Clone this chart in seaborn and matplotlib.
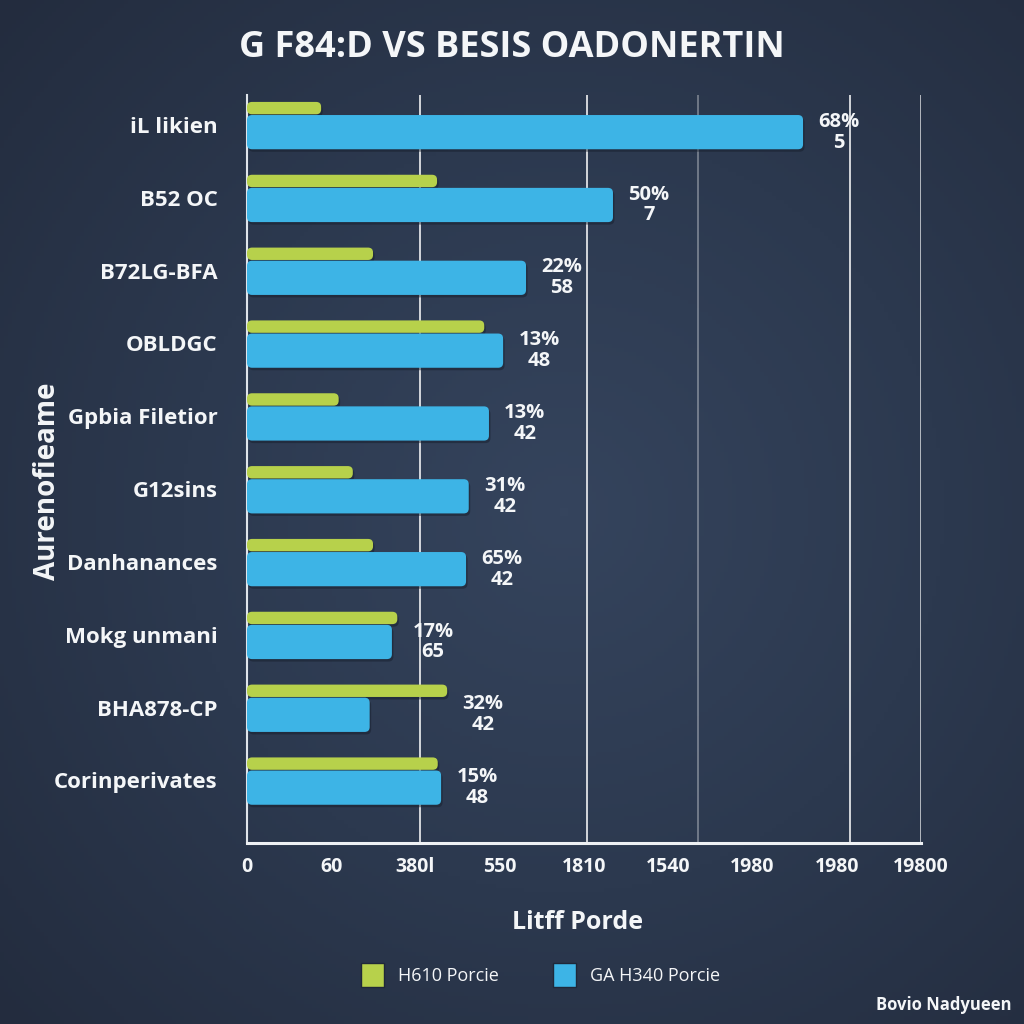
import numpy as np
import pandas as pd
import matplotlib
matplotlib.use("Agg")
import matplotlib.pyplot as plt
import seaborn as sns
from matplotlib.patches import FancyBboxPatch, Patch
from matplotlib.colors import LinearSegmentedColormap

# ---------------- data ----------------
categories = ["iL likien", "B52 OC", "B72LG-BFA", "OBLDGC", "Gpbia Filetior",
              "G12sins", "Danhanances", "Mokg unmani", "BHA878-CP", "Corinperivates"]
green_vals = [11.0, 28.2, 18.7, 35.2, 13.6, 15.7, 18.7, 22.3, 29.7, 28.3]
blue_vals = [82.5, 54.3, 41.4, 38.0, 35.9, 32.9, 32.5, 21.5, 18.2, 28.8]
pct_labels = ["68%", "50%", "22%", "13%", "13%", "31%", "65%", "17%", "32%", "15%"]
count_labels = ["5", "7", "58", "48", "42", "42", "42", "65", "42", "48"]
x_tick_labels = ["0", "60", "380l", "550", "1810", "1540", "1980", "1980", "19800"]
grid_x = [25.7, 50.4, 66.9, 89.5, 100.0]
grid_alpha = [0.85, 0.85, 0.35, 0.85, 0.7]
series_names = ["H610 Porcie", "GA H340 Porcie"]
title = "G F84:D VS BESIS OADONERTIN"
x_label = "Litff Porde"
y_label = "Aurenofieame"
credit = "Bovio Nadyueen"

GREEN = "#b7d14b"
BLUE = "#3db4e6"
WHITE = "#f4f6f8"

sns.set_theme(style="dark")
plt.rcParams["font.family"] = ["Open Sans", "DejaVu Sans"]

W = H = 1024
fig = plt.figure(figsize=(10.24, 10.24), dpi=100)

# background radial gradient
bg = fig.add_axes([0, 0, 1, 1], zorder=-10)
yy, xx = np.mgrid[0:1:256j, 0:1:256j]
r = np.sqrt(((xx - 0.55) / 0.75) ** 2 + ((yy - 0.5) / 0.75) ** 2)
cmap_bg = LinearSegmentedColormap.from_list("bg", ["#35445d", "#2c394f", "#232c3e"])
bg.imshow(np.clip(r, 0, 1), cmap=cmap_bg, aspect="auto", extent=[0, 1, 0, 1], origin="lower")
bg.axis("off")

ax = fig.add_axes([247 / W, 1 - 843 / H, 674 / W, (843 - 95) / H])
ax.set_facecolor("none")

n = len(categories)
idx = np.arange(n)
df_green = pd.DataFrame({"value": green_vals, "pos": idx - 0.23})
df_blue = pd.DataFrame({"value": blue_vals, "pos": idx + 0.10})

sns.barplot(data=df_green, x="value", y="pos", orient="h", native_scale=True,
            width=0.17, color=GREEN, saturation=1, ax=ax, zorder=3)
sns.barplot(data=df_blue, x="value", y="pos", orient="h", native_scale=True,
            width=0.47, color=BLUE, saturation=1, ax=ax, zorder=4)

ax.set_xlim(0, 100)
ax.set_ylim(9.86, -0.41)

# round bar corners + soft shadow
x0p, y0p = ax.transData.transform((0, 0))
x1p, y1p = ax.transData.transform((1, 1))
px_x = abs(x1p - x0p)  # px per x unit
px_y = abs(y1p - y0p)  # px per y unit
aspect = px_x / px_y
old = list(ax.patches)
for k, p in enumerate(old):
    bx, by, bw, bh = p.get_x(), p.get_y(), p.get_width(), p.get_height()
    col = p.get_facecolor()
    z = 3 if k < n else 4
    p.remove()
    sh = FancyBboxPatch((bx + 1.5 / px_x, by + 2.5 / px_y), bw, bh,
                        boxstyle=f"round,pad=0,rounding_size={5 / px_x}",
                        mutation_aspect=aspect, facecolor="#141b28", alpha=0.45,
                        edgecolor="none", zorder=z - 0.5)
    ax.add_patch(sh)
    fb = FancyBboxPatch((bx, by), bw, bh,
                        boxstyle=f"round,pad=0,rounding_size={5 / px_x}",
                        mutation_aspect=aspect, facecolor=col, edgecolor="none", zorder=z)
    ax.add_patch(fb)

# grid lines
for gx, ga in zip(grid_x, grid_alpha):
    ax.axvline(gx, color="white", lw=1.3, alpha=ga, zorder=1)

# annotations
for i in range(n):
    xm = max(green_vals[i], blue_vals[i])
    ax.annotate(f"{pct_labels[i]}\n{count_labels[i]}", xy=(xm, i + 0.10),
                xytext=(11, 0), textcoords="offset points", ha="left", va="center",
                multialignment="center", color=WHITE, fontsize=14.5, fontweight="bold",
                linespacing=1.05, zorder=6)

# axes styling
ax.set_yticks(idx)
ax.set_yticklabels(categories)
ax.set_yticks(list(idx + 0.45) + [-0.41], minor=True)
ax.tick_params(axis="y", which="major", length=0, pad=21, labelsize=16, labelcolor=WHITE)
ax.tick_params(axis="y", which="minor", length=8, width=1.5, color="#dfe4ea", direction="out")
for lab in ax.get_yticklabels():
    lab.set_fontweight("bold")

ax.set_xticks(np.linspace(0, 100, len(x_tick_labels)))
ax.set_xticklabels(x_tick_labels)
ax.set_xticks([0, 25, 50, 75, 100], minor=True)
ax.tick_params(axis="x", which="major", length=0, pad=10, labelsize=14, labelcolor=WHITE)
ax.tick_params(axis="x", which="minor", length=14, width=1.6, color="#eef1f4", direction="inout")
for lab in ax.get_xticklabels():
    lab.set_fontweight("bold")

ax.grid(False)
for s in ["top", "right"]:
    ax.spines[s].set_visible(False)
ax.spines["left"].set_color("#dfe4ea")
ax.spines["left"].set_linewidth(1.5)
ax.spines["bottom"].set_color("#eef1f4")
ax.spines["bottom"].set_linewidth(2.2)

ax.set_xlabel(x_label, fontsize=18, fontweight="bold", color=WHITE)
ax.xaxis.set_label_coords(0.491, -0.09)
ax.set_ylabel(y_label, fontsize=20, fontweight="bold", color=WHITE)
ax.yaxis.set_label_coords(-0.275, 0.483)

fig.text(0.5, 1 - 48 / H, title, ha="center", va="center", fontsize=26,
         fontweight="bold", color=WHITE)

handles = [Patch(facecolor=GREEN, edgecolor="#1f2839", lw=1),
           Patch(facecolor=BLUE, edgecolor="#1f2839", lw=1)]
fig.legend(handles, series_names, loc="center", bbox_to_anchor=(0.528, 1 - 975 / H),
           ncol=2, frameon=False, fontsize=13, labelcolor=WHITE, handlelength=1.25,
           handleheight=1.7, columnspacing=3.0, handletextpad=0.8)

fig.text(1 - 12 / W, 1 - 1005 / H, credit, ha="right", va="center", fontsize=12,
         fontweight="bold", color=WHITE)

fig.savefig("out.png", dpi=100)
